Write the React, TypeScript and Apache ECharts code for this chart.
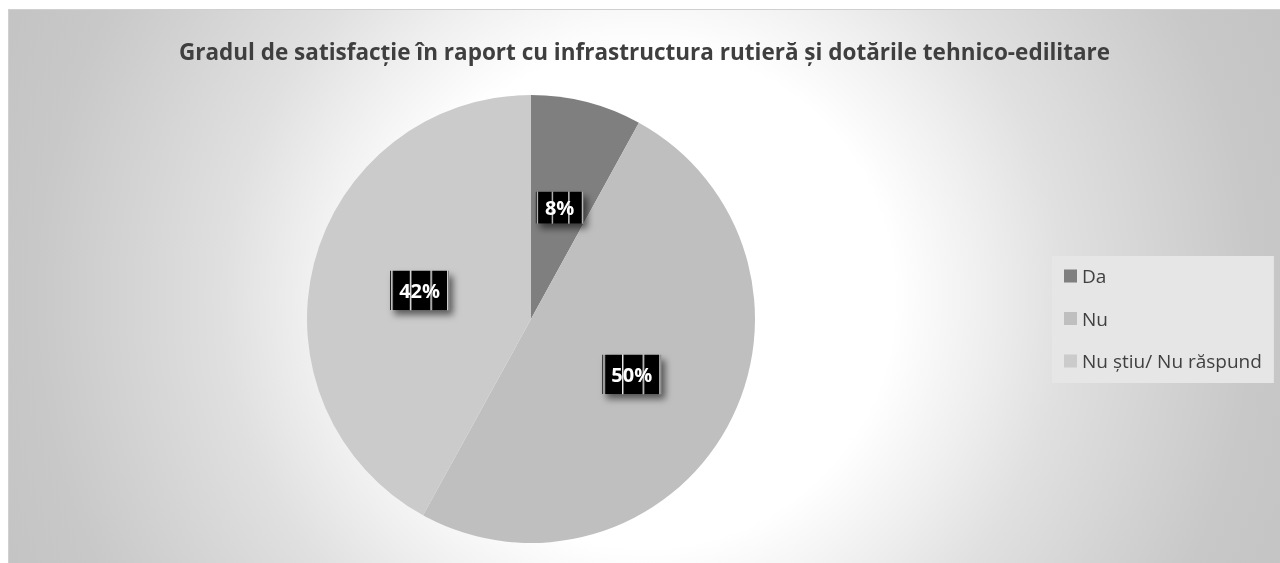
import React, { useEffect, useRef } from "react";
import * as echarts from "echarts";

const titleText =
  "Gradul de satisfacție în raport cu infrastructura rutieră și dotările tehnico-edilitare";
const categories = ["Da", "Nu", "Nu știu/ Nu răspund"];
const values = [8, 50, 42];
const colors = ["#7f7f7f", "#bfbfbf", "#cbcbcb"];

function makeStripes(): HTMLCanvasElement | string {
  const c = document.createElement("canvas");
  c.width = 60;
  c.height = 40;
  const ctx = c.getContext("2d");
  if (!ctx) return "#000000";
  ctx.fillStyle = "#000000";
  ctx.fillRect(0, 0, 60, 40);
  ctx.fillStyle = "#e8e8e8";
  [1, 20, 41, 58].forEach((x) => ctx.fillRect(x, 0, 1.5, 40));
  return c;
}

export default function App() {
  const ref = useRef<HTMLDivElement>(null);
  useEffect(() => {
    if (!ref.current) return;
    const chart = echarts.init(ref.current, null, { renderer: "svg" });
    const stripes = makeStripes();
    chart.setOption({
      animation: false,
      title: {
        text: titleText,
        left: "center",
        top: 25,
        padding: [5, 0, 5, 10],
        textStyle: {
          fontFamily: "Open Sans",
          fontWeight: "bold",
          fontSize: 22.5,
          color: "#3f3f3f",
        },
      },
      legend: {
        orient: "vertical",
        left: 1043,
        top: 246,
        padding: [10.5, 12, 12.5, 12],
        backgroundColor: "#e6e6e6",
        itemWidth: 13,
        itemHeight: 13,
        itemGap: 23.5,
        icon: "rect",
        textStyle: {
          fontFamily: "Open Sans",
          fontSize: 19,
          color: "#404040",
        },
        data: categories,
      },
      series: [
        {
          type: "pie",
          center: [522, 309],
          radius: 224,
          startAngle: 90,
          clockwise: true,
          data: categories.map((name, i) => ({
            name,
            value: values[i],
            itemStyle: { color: colors[i] },
          })),
          label: {
            show: true,
            position: "inside",
            formatter: "{d}%",
            fontFamily: "Open Sans",
            fontWeight: "bold",
            fontSize: 20,
            color: "#ffffff",
            backgroundColor: typeof stripes === "string" ? stripes : { image: stripes },
            padding: [10, 9],
            shadowColor: "rgba(0,0,0,0.55)",
            shadowBlur: 7,
            shadowOffsetX: 4,
            shadowOffsetY: 5,
          },
          labelLine: { show: false },
          emphasis: { disabled: true },
        },
      ],
    });
    return () => chart.dispose();
  }, []);
  return (
    <div
      ref={ref}
      style={{
        position: "fixed",
        left: 8,
        top: 9,
        width: 1272,
        height: 554,
        boxSizing: "border-box",
        borderTop: "1px solid #d0d0d0",
        borderLeft: "1px solid #d0d0d0",
        background:
          "radial-gradient(circle 690px at 50% 52%, #ffffff 0px, #ffffff 250px, #efefef 340px, #e0e0e0 420px, #c8c8c8 610px, #c4c4c4 690px)",
      }}
    />
  );
}
